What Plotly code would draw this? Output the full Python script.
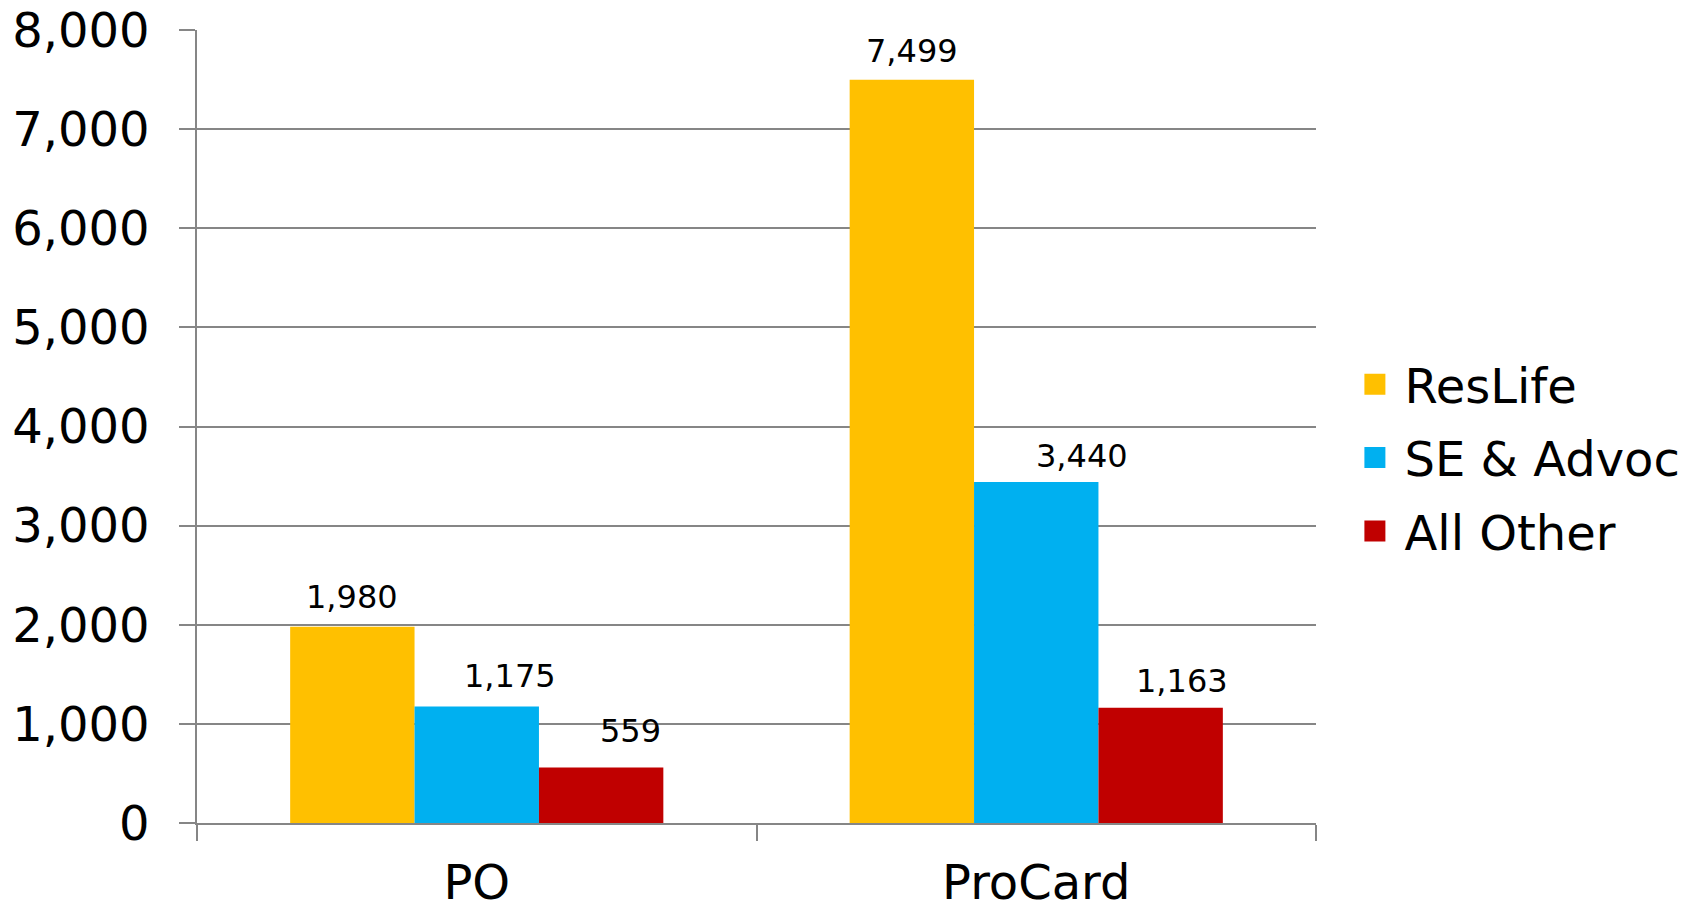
import plotly.graph_objects as go

categories = ["PO", "ProCard"]
series_names = ["ResLife", "SE & Advoc", "All Other"]
reslife = [1980, 7499]
se_advoc = [1175, 3440]
all_other = [559, 1163]
y_ticks = [0, 1000, 2000, 3000, 4000, 5000, 6000, 7000, 8000]

colors = ["#FFC000", "#00B0F0", "#C00000"]
values = [reslife, se_advoc, all_other]

FONT = "Verdana, DejaVu Sans, sans-serif"
GRID = "#868686"

# label nudges (px) per series per category: (dx, dy above bar top to text middle)
label_dx = [[0, 0], [33, 46], [29, 21]]
label_dy = [[30, 29], [31, 26], [37, 27]]

fig = go.Figure()
for name, vals, col in zip(series_names, values, colors):
    fig.add_trace(go.Bar(name=name, x=categories, y=vals, marker_color=col,
                         marker_line_width=0, showlegend=False))
    fig.add_trace(go.Scatter(name="\u2009" + name, x=[None], y=[None], mode="markers",
                             marker=dict(symbol="square", size=27, color=col,
                                         line=dict(width=5, color=col)),
                             legendgroup=name, showlegend=True))

L, R, T, B = 197, 384.4, 29.5, 87.3
plot_w = 1700 - L - R
cat_px = plot_w / len(categories)
bargap = 0.333
bar_px = cat_px * (1 - bargap) / 3

annotations = []
for i, vals in enumerate(values):
    for j, (cat, v) in enumerate(zip(categories, vals)):
        annotations.append(dict(
            x=cat, y=v, xref="x", yref="y", text=f"{v:,}", showarrow=False,
            xanchor="center", yanchor="middle",
            xshift=(i - 1) * bar_px + label_dx[i][j], yshift=label_dy[i][j],
            font=dict(family=FONT, size=32, color="#000000")))

fig.update_layout(
    width=1700, height=910,
    margin=dict(l=L, r=R, t=T, b=B, autoexpand=False),
    paper_bgcolor="white", plot_bgcolor="white",
    barmode="group", bargap=bargap, bargroupgap=0,
    font=dict(family=FONT, size=48, color="#000000"),
    annotations=annotations,
    legend=dict(xref="container", yref="container", x=0.797, y=1 - 458 / 910,
                xanchor="left", yanchor="middle", tracegroupgap=8,
                font=dict(family=FONT, size=48, color="#000000"),
                bgcolor="rgba(0,0,0,0)"),
)
fig.update_xaxes(type="category", tickson="boundaries", ticks="outside", ticklen=16,
                 tickcolor=GRID, tickwidth=1.5, showline=True, linecolor=GRID,
                 linewidth=1.5, showgrid=False, ticklabelstandoff=17, automargin=False,
                 tickfont=dict(family=FONT, size=48))
fig.update_yaxes(range=[0, 8000], tickvals=y_ticks, tickformat=",d", ticks="outside",
                 ticklen=16, tickcolor=GRID, tickwidth=1.5, showline=True,
                 linecolor=GRID, linewidth=1.5, showgrid=True, gridcolor=GRID,
                 gridwidth=1.5, zeroline=False, ticklabelstandoff=20, automargin=False,
                 tickfont=dict(family=FONT, size=48))

fig.write_html("out.html")
